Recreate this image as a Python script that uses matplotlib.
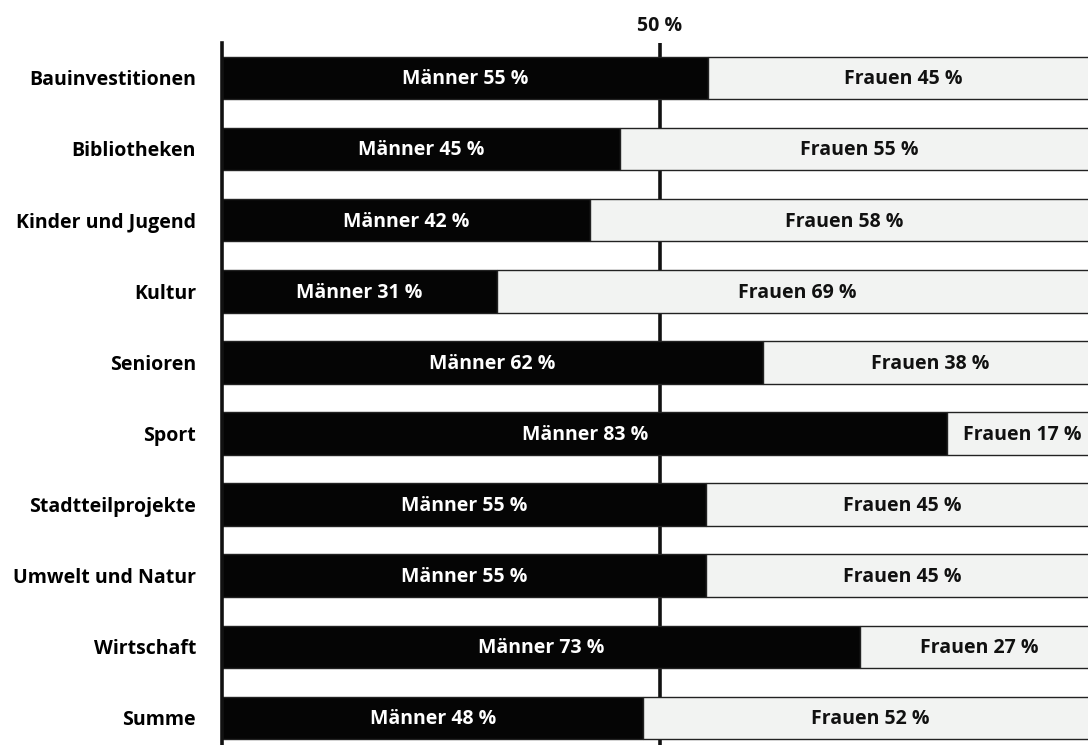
import matplotlib.pyplot as plt
import numpy as np

# Anteile nach Themenbereich (Männer / Frauen, in %)
categories = ["Bauinvestitionen", "Bibliotheken", "Kinder und Jugend", "Kultur",
              "Senioren", "Sport", "Stadtteilprojekte", "Umwelt und Natur",
              "Wirtschaft", "Summe"]
maenner = [55.5, 45.4, 42.0, 31.4, 61.8, 82.8, 55.3, 55.3, 72.8, 48.1]
frauen = [44.5, 54.6, 58.0, 68.6, 38.2, 17.2, 44.7, 44.7, 27.2, 51.9]
maenner_label = [55, 45, 42, 31, 62, 83, 55, 55, 73, 48]
frauen_label = [45, 55, 58, 69, 38, 17, 45, 45, 27, 52]

plt.rcParams['font.family'] = ['Open Sans', 'DejaVu Sans']
plt.rcParams['font.weight'] = 'bold'
fs = 14

fig = plt.figure(figsize=(10.88, 7.45), dpi=100)
ax = fig.add_axes([222 / 1088, 0, 866 / 1088, 702 / 745])

y = np.arange(len(categories))
h = 0.6
ax.barh(y, maenner, height=h, color="#050505", edgecolor="#222222", linewidth=1)
ax.barh(y, frauen, left=maenner, height=h, color="#f2f3f2",
        edgecolor="#222222", linewidth=1)

for i in range(len(categories)):
    ax.text(maenner[i] / 2, y[i] + 0.02, f"Männer {maenner_label[i]} %",
            color="white", ha="center", va="center", fontsize=fs,
            fontweight="bold")
    ax.text(maenner[i] + frauen[i] / 2, y[i] + 0.02,
            f"Frauen {frauen_label[i]} %", color="#111111", ha="center",
            va="center", fontsize=fs, fontweight="bold")

ax.axvline(50, color="#111111", linewidth=2.6, zorder=0)
ax.text(50, -0.59, "50 %", ha="center", va="bottom", fontsize=fs,
        fontweight="bold", color="#111111", clip_on=False)

ax.set_xlim(0, 98.86)
ax.set_ylim(len(categories) - 1 + 0.38, -0.49)
ax.set_yticks(y, labels=categories)
ax.set_xticks([])
ax.tick_params(axis="y", length=0, pad=18.7, labelsize=fs)
for lab in ax.get_yticklabels():
    lab.set_fontweight("bold")
for side in ["top", "right", "bottom"]:
    ax.spines[side].set_visible(False)
ax.spines["left"].set_linewidth(2.6)
ax.spines["left"].set_color("#111111")

plt.savefig("out.png", dpi=100)
